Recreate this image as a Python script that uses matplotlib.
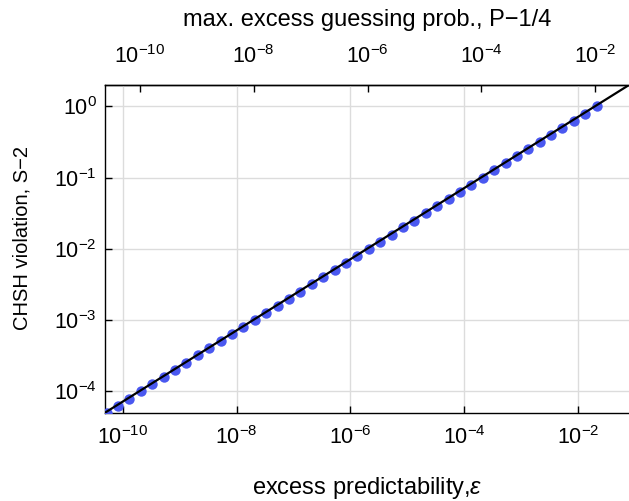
import numpy as np
import matplotlib
matplotlib.use('Agg')
from matplotlib import pyplot as plt

plt.rcParams['font.family'] = ['Liberation Sans', 'DejaVu Sans']
plt.rcParams['mathtext.fontset'] = 'custom'
plt.rcParams['mathtext.rm'] = 'Liberation Sans'
plt.rcParams['mathtext.it'] = 'Liberation Sans:italic'

# blue points: excess predictability vs CHSH violation
eps_pts = [5.3e-11, 8.4e-11, 1.3e-10,
           2.1e-10, 3.3e-10, 5.3e-10, 8.4e-10, 1.3e-9, 2.1e-9, 3.3e-9, 5.3e-9, 8.4e-9, 1.3e-8,
           2.1e-8, 3.3e-8, 5.3e-8, 8.4e-8, 1.3e-7, 2.1e-7, 3.3e-7, 5.3e-7, 8.4e-7, 1.3e-6,
           2.1e-6, 3.3e-6, 5.3e-6, 8.4e-6, 1.3e-5, 2.1e-5, 3.3e-5, 5.3e-5, 8.4e-5, 1.3e-4,
           2.1e-4, 3.3e-4, 5.3e-4, 8.4e-4, 1.3e-3, 2.1e-3, 3.3e-3, 5.3e-3, 8.4e-3, 1.3e-2,
           2.1e-2]
viol_pts = [5.0e-5, 6.3e-5, 7.9e-5,
            1.0e-4, 1.26e-4, 1.58e-4, 2.0e-4, 2.5e-4, 3.2e-4, 4.0e-4, 5.0e-4, 6.3e-4, 7.9e-4,
            1.0e-3, 1.26e-3, 1.58e-3, 2.0e-3, 2.5e-3, 3.2e-3, 4.0e-3, 5.0e-3, 6.3e-3, 7.9e-3,
            1.0e-2, 1.26e-2, 1.58e-2, 2.0e-2, 2.5e-2, 3.2e-2, 4.0e-2, 5.0e-2, 6.3e-2, 7.9e-2,
            0.10, 0.126, 0.158, 0.20, 0.25, 0.32, 0.40, 0.50, 0.63, 0.79,
            1.0]

# black line (straight in log-log)
eps_line = [4.9e-11, 7.8e-2]
viol_line = [5.0e-5, 2.0]

x_ticks = [1e-10, 1e-8, 1e-6, 1e-4, 1e-2]
y_ticks = [1e-4, 1e-3, 1e-2, 1e-1, 1e0]

fig = plt.figure(figsize=(6.29, 5.01), dpi=100)
ax = fig.add_axes([105/629, 1 - 412.7/501, 524/629, 327.7/501])

ax.plot(eps_pts, viol_pts, 'o', color='#4a58f0', markersize=7.5, markeredgewidth=0, zorder=3)
ax.plot(eps_line, viol_line, color='black', linewidth=1.6, zorder=4)

ax.set_xscale('log')
ax.set_yscale('log')
ax.set_xlim(4.9e-11, 7.8e-2)
ax.set_ylim(5.0e-5, 2.0)
ax.set_xticks(x_ticks)
ax.set_yticks(y_ticks)
ax.minorticks_off()
ax.grid(True, color='#dcdcdc', linewidth=1.0)
ax.set_axisbelow(True)

ax.spines['right'].set_visible(False)
for s in ['left', 'bottom', 'top']:
    ax.spines[s].set_linewidth(1.0)
ax.tick_params(direction='in', length=5, width=1.0, labelsize=15.5, top=False, right=False)
ax.tick_params(axis='x', pad=10)
ax.tick_params(axis='y', pad=6)

ax.set_xlabel(r'excess predictability,$\epsilon$', fontsize=17)
ax.xaxis.set_label_coords(0.5, -0.19)
ax.set_ylabel('CHSH violation, S\u22122', fontsize=14.5)
ax.yaxis.set_label_coords(-0.141, 0.533)

top = ax.secondary_xaxis('top', functions=(lambda x: x / 2, lambda x: x * 2))
top.set_xticks(x_ticks)
top.minorticks_off()
top.tick_params(direction='in', length=5, width=1.0, labelsize=15.5, pad=12)
top.spines['top'].set_linewidth(1.0)
top.set_xlabel('max. excess guessing prob., P\u22121/4', fontsize=17, labelpad=14)

fig.savefig('out.png', dpi=100)
